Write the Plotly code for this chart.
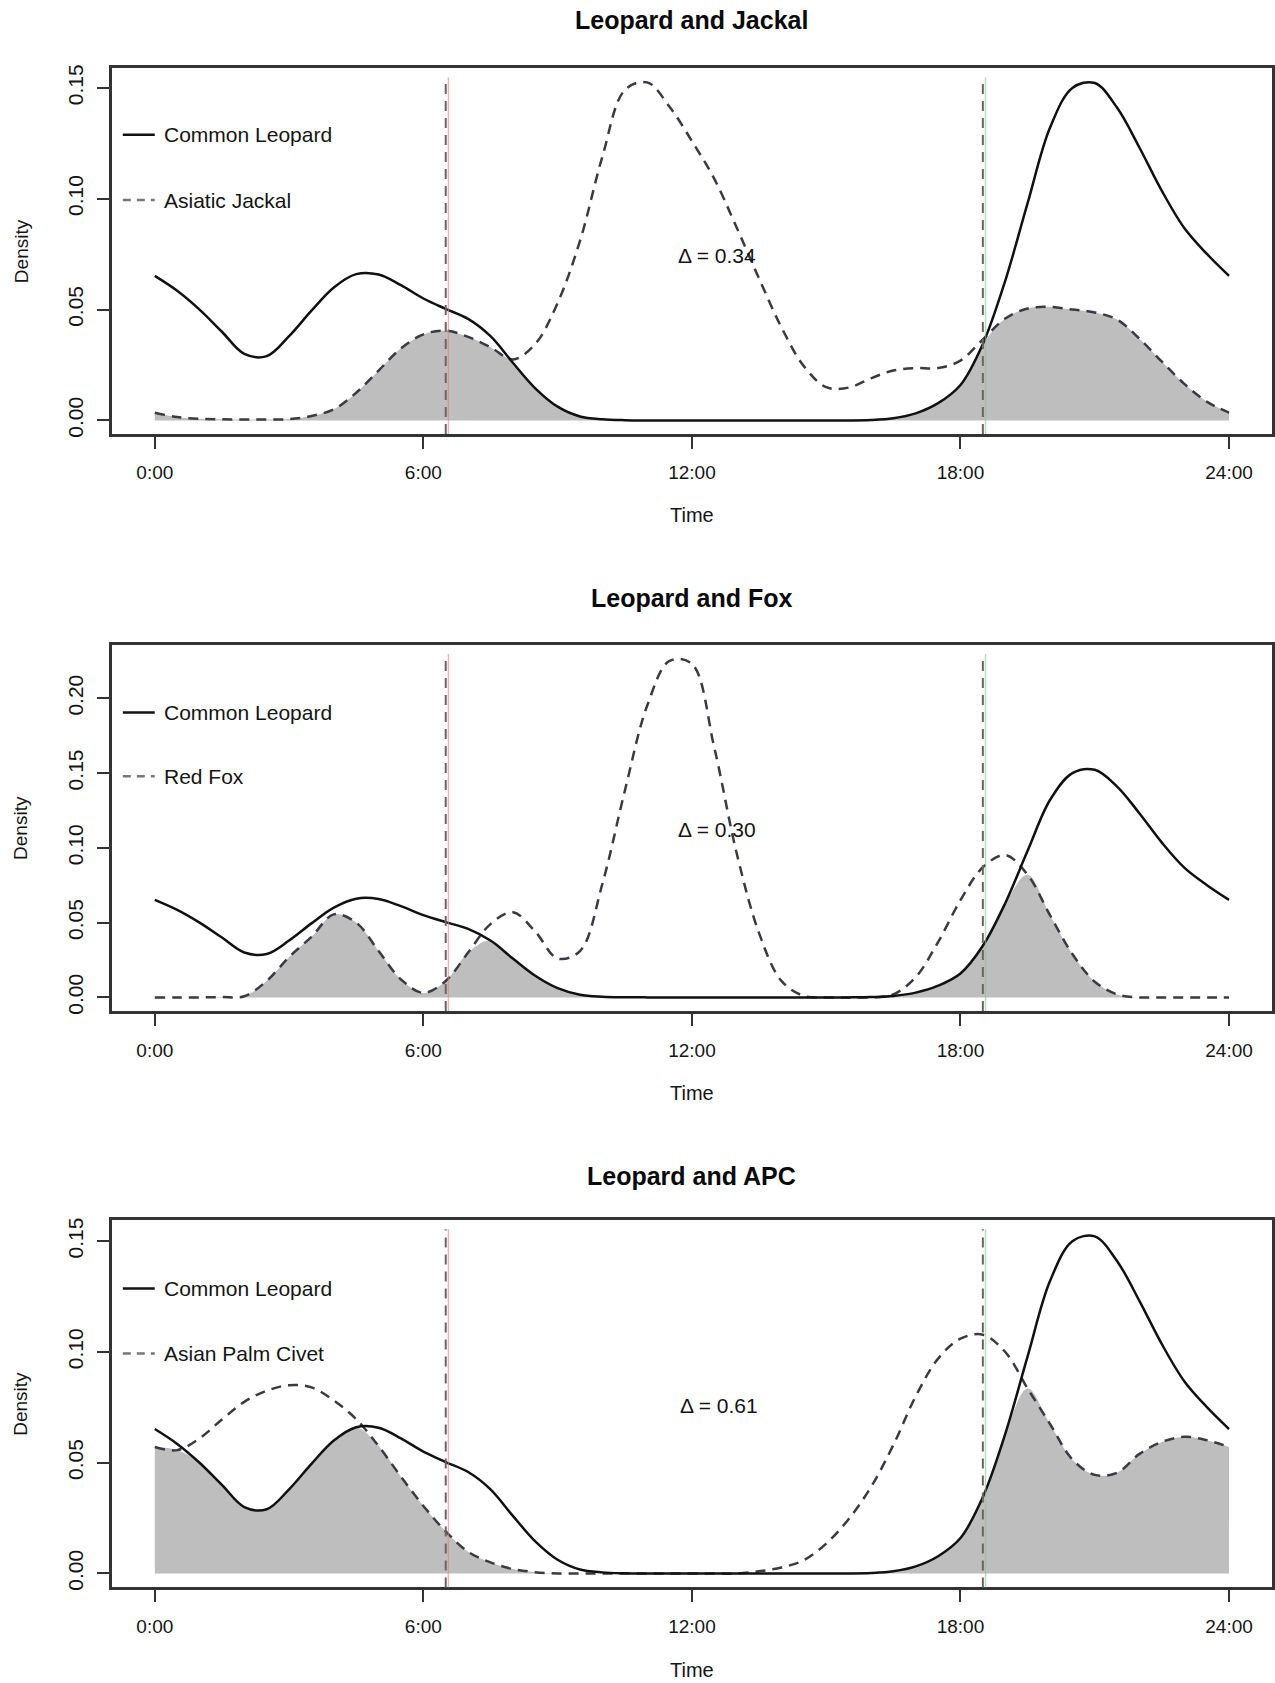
import plotly.graph_objects as go

W, H = 1275, 1683

# ---------------- data ----------------
hours = [0, 0.5, 1, 1.5, 2, 2.5, 3, 3.5, 4, 4.5, 5, 5.5, 6, 6.5, 7, 7.5, 8, 8.5,
         9, 9.5, 10, 10.5, 11, 11.5, 12, 12.5, 13, 13.5, 14, 14.5, 15, 15.5, 16,
         16.5, 17, 17.5, 18, 18.5, 19, 19.5, 20, 20.5, 21, 21.5, 22, 22.5, 23,
         23.5, 24]

leopard = [0.0652, 0.0585, 0.0500, 0.0400, 0.0300, 0.0290, 0.0380, 0.0495, 0.0600,
           0.0660, 0.0658, 0.0610, 0.0550, 0.0503, 0.0458, 0.0380, 0.0260, 0.0145,
           0.0062, 0.0018, 0.0005, 0.0001, 0.0, 0.0, 0.0, 0.0, 0.0, 0.0, 0.0, 0.0,
           0.0, 0.0, 0.0002, 0.0010, 0.0032, 0.0078, 0.0160, 0.0345, 0.0630, 0.0980,
           0.1320, 0.1500, 0.1522, 0.1410, 0.1230, 0.1035, 0.0868, 0.0752, 0.0652]

jackal = [0.0035, 0.0015, 0.0007, 0.0005, 0.0004, 0.0004, 0.0006, 0.0020, 0.0050,
          0.0125, 0.0225, 0.0325, 0.0388, 0.0405, 0.0377, 0.0330, 0.0275, 0.0345,
          0.0530, 0.0810, 0.1190, 0.1490, 0.1525, 0.1415, 0.1260, 0.1090, 0.0870,
          0.0640, 0.0420, 0.0245, 0.0150, 0.0148, 0.0190, 0.0225, 0.0236, 0.0236,
          0.0270, 0.0365, 0.0460, 0.0505, 0.0512, 0.0500, 0.0487, 0.0455, 0.0368,
          0.0265, 0.0165, 0.0085, 0.0035]

fox = [0.0, 0.0, 0.0, 0.0002, 0.0008, 0.0110, 0.0270, 0.0405, 0.0555, 0.0500,
       0.0310, 0.0120, 0.0030, 0.0110, 0.0300, 0.0490, 0.0570, 0.0440, 0.0260,
       0.0310, 0.0760, 0.1380, 0.1950, 0.2250, 0.2230, 0.1670, 0.0964, 0.0430,
       0.0110, 0.0010, 0.0, 0.0, 0.0, 0.0020, 0.0135, 0.0370, 0.0650, 0.0870,
       0.0952, 0.0820, 0.0550, 0.0290, 0.0105, 0.0020, 0.0, 0.0, 0.0, 0.0, 0.0]

civet = [0.0571, 0.0557, 0.0610, 0.0695, 0.0775, 0.0825, 0.0850, 0.0840, 0.0781,
         0.0697, 0.0575, 0.0437, 0.0305, 0.0190, 0.0098, 0.0050, 0.0020, 0.0006,
         0.0, 0.0, 0.0, 0.0, 0.0, 0.0, 0.0, 0.0, 0.0, 0.0010, 0.0027, 0.0060,
         0.0135, 0.0245, 0.0390, 0.0580, 0.0800, 0.0970, 0.1060, 0.1078, 0.1000,
         0.0835, 0.0675, 0.0515, 0.0445, 0.0455, 0.0540, 0.0594, 0.0617, 0.0602,
         0.0571]

titles = ["Leopard and Jackal", "Leopard and Fox", "Leopard and APC"]
others = [jackal, fox, civet]
other_names = ["Asiatic Jackal", "Red Fox", "Asian Palm Civet"]
deltas = ["\u0394 = 0.34", "\u0394 = 0.30", "\u0394 = 0.61"]
delta_pos = [(12.55, 0.0745), (12.55, 0.112), (12.6, 0.0759)]
y_ranges = [(-0.0061, 0.1588), (-0.0091, 0.2357), (-0.0063, 0.1595)]
y_ticks = [[0.0, 0.05, 0.10, 0.15], [0.0, 0.05, 0.10, 0.15, 0.20], [0.0, 0.05, 0.10, 0.15]]
x_ticks = [0, 6, 12, 18, 24]
x_ticklabels = ["0:00", "6:00", "12:00", "18:00", "24:00"]
sunrise, sunset = 6.5, 18.5

# ---------------- layout geometry (pixels) ----------------
plot_left, plot_right = 112, 1274
panel_tb = [(64.7, 432.0), (644.0, 1011.8), (1222.0, 1591.0)]
title_y = [16.5, 597.0, 1178.0]
time_y = [513.0, 1094.0, 1674.0]
legend_y = [(131.5, 197.0), (712.0, 776.0), (1290.6, 1356.0)]

FONT = "Liberation Sans, Arial, Helvetica, sans-serif"
TXT = "#151515"


def px(x):
    return x / W


def py(y):
    return 1 - y / H


fig = go.Figure()
shapes = []
annotations = []
xc = (plot_left + plot_right) / 2

for i in range(3):
    xa = "x" if i == 0 else f"x{i+1}"
    ya = "y" if i == 0 else f"y{i+1}"
    other = others[i]
    overlap = [min(a, b) for a, b in zip(leopard, other)]

    fig.add_trace(go.Scatter(x=hours, y=overlap, xaxis=xa, yaxis=ya, mode="lines",
                             line=dict(width=0, shape="spline", color="#bebebe"),
                             fill="tozeroy", fillcolor="#bebebe", showlegend=False,
                             hoverinfo="skip"))
    fig.add_trace(go.Scatter(x=hours, y=other, xaxis=xa, yaxis=ya, mode="lines",
                             line=dict(width=2.5, shape="spline", color="#3a3a42",
                                       dash="10px,7px"),
                             name=other_names[i], showlegend=False))
    fig.add_trace(go.Scatter(x=hours, y=leopard, xaxis=xa, yaxis=ya, mode="lines",
                             line=dict(width=2.5, shape="spline", color="#111111"),
                             name="Common Leopard", showlegend=False))

    top, bot = panel_tb[i]
    dom_y = [py(bot), py(top)]
    axis_common = dict(showgrid=False, zeroline=False, showline=True, mirror=True,
                       linecolor="#333333", linewidth=2.5, ticks="outside",
                       ticklen=12, tickwidth=2, tickcolor="#333333")
    fig.layout[("xaxis" if i == 0 else f"xaxis{i+1}")] = dict(
        domain=[px(plot_left), px(plot_right)], anchor=ya, range=[-0.96, 24.96],
        tickvals=x_ticks, ticktext=x_ticklabels, ticklabelstandoff=8,
        tickfont=dict(family=FONT, size=19, color=TXT), **axis_common)
    fig.layout[("yaxis" if i == 0 else f"yaxis{i+1}")] = dict(
        domain=dom_y, anchor=xa, range=list(y_ranges[i]),
        tickvals=y_ticks[i], ticktext=[f"{v:.2f}" for v in y_ticks[i]],
        tickangle=-90, ticklabelstandoff=6,
        tickfont=dict(family=FONT, size=21, color=TXT), **axis_common)

    # sunrise / sunset lines
    for xv, halo in ((sunrise, "rgba(225,130,130,0.6)"), (sunset, "rgba(130,200,145,0.6)")):
        shapes.append(dict(type="line", xref=xa, yref=f"{ya} domain", x0=xv + 0.06,
                           x1=xv + 0.06, y0=0, y1=0.975,
                           line=dict(color=halo, width=1.5)))
        shapes.append(dict(type="line", xref=xa, yref=f"{ya} domain", x0=xv, x1=xv,
                           y0=0, y1=0.975,
                           line=dict(color="#666666", width=2, dash="10px,7px")))

    # legend (drawn manually)
    ly1, ly2 = legend_y[i]
    shapes.append(dict(type="line", xref="paper", yref="paper", x0=px(123), x1=px(155),
                       y0=py(ly1), y1=py(ly1), line=dict(color="#111111", width=2.5)))
    shapes.append(dict(type="line", xref="paper", yref="paper", x0=px(123), x1=px(155),
                       y0=py(ly2), y1=py(ly2),
                       line=dict(color="#777777", width=2.5, dash="8px,6px")))
    annotations.append(dict(x=px(162), y=py(ly1), xref="paper", yref="paper",
                            text="Common Leopard", showarrow=False, xanchor="left",
                            yanchor="middle", font=dict(family=FONT, size=21, color=TXT)))
    annotations.append(dict(x=px(162), y=py(ly2), xref="paper", yref="paper",
                            text=other_names[i], showarrow=False, xanchor="left",
                            yanchor="middle", font=dict(family=FONT, size=21, color=TXT)))

    # title
    annotations.append(dict(x=px(xc), y=py(title_y[i]), xref="paper", yref="paper",
                            text=f"<b>{titles[i]}</b>", showarrow=False, xanchor="center",
                            yanchor="middle", font=dict(family=FONT, size=25, color="#0a0a0a")))
    # axis titles
    annotations.append(dict(x=px(xc), y=py(time_y[i]), xref="paper", yref="paper",
                            text="Time", showarrow=False, xanchor="center",
                            yanchor="middle", font=dict(family=FONT, size=20, color=TXT)))
    annotations.append(dict(x=px(21), y=py((top + bot) / 2), xref="paper", yref="paper",
                            text="Density", showarrow=False, textangle=-90,
                            xanchor="center", yanchor="middle",
                            font=dict(family=FONT, size=19, color=TXT)))
    # overlap coefficient
    dx, dy = delta_pos[i]
    annotations.append(dict(x=dx, y=dy, xref=xa, yref=ya, text=deltas[i],
                            showarrow=False, xanchor="center", yanchor="middle",
                            font=dict(family=FONT, size=21, color=TXT)))

fig.update_layout(width=W, height=H, autosize=False,
                  margin=dict(l=0, r=0, t=0, b=0, pad=0),
                  paper_bgcolor="white", plot_bgcolor="white",
                  shapes=shapes, annotations=annotations, showlegend=False)

fig.write_html("out.html")
